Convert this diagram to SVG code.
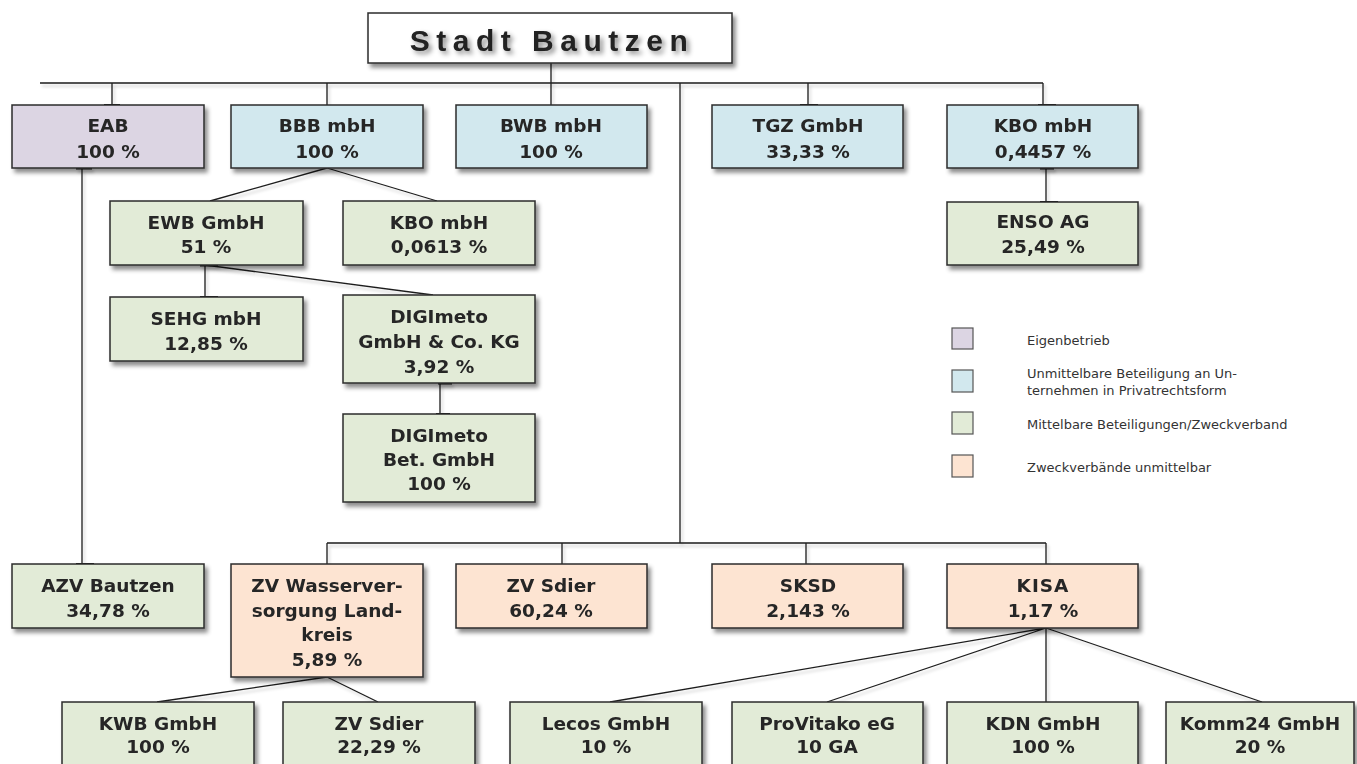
<svg xmlns="http://www.w3.org/2000/svg" width="1357" height="764" viewBox="0 0 1357 764">
<defs>
<filter id="sh" x="-10%" y="-10%" width="130%" height="140%">
<feDropShadow dx="3" dy="4" stdDeviation="2" flood-color="#000" flood-opacity="0.45"/>
</filter>
<filter id="tsh" x="-10%" y="-30%" width="130%" height="170%">
<feDropShadow dx="3" dy="3" stdDeviation="2.5" flood-color="#000" flood-opacity="0.45"/>
</filter>
<filter id="lsh" x="-5%" y="-5%" width="110%" height="110%">
<feDropShadow dx="2" dy="3" stdDeviation="1.5" flood-color="#000" flood-opacity="0.2"/>
</filter>
</defs>
<style>
.b{stroke:#2b2b2b;stroke-width:1.5}
.p{fill:#dcd5e3}
.u{fill:#d2e8ee}
.g{fill:#e2ebd7}
.o{fill:#fde4d2}
.w{fill:#ffffff}
.t{font-family:"DejaVu Sans",Verdana,sans-serif;font-weight:bold;font-size:18.5px;fill:#262626;text-anchor:middle}
.root{font-family:"Liberation Sans",Arial,sans-serif;font-weight:bold;font-size:30px;letter-spacing:6.5px;fill:#222;text-anchor:middle}
.c{stroke:#1e1e1e;stroke-width:1.3;fill:none}
.cap{fill:#111}
.lg{font-family:"DejaVu Sans",Verdana,sans-serif;font-size:13px;fill:#333}
.ls{stroke:#555;stroke-width:1.2}
</style>

<g id="connectors" filter="url(#lsh)">
<path class="c" d="M551 63V83M40 83H1043M112 83V105M327 83V105M551 83V105M808 83V105M1043 83V105M680 83V543"/>
<path class="c" d="M327 543H1046M327 543V564M562 543V564M806 543V564M1046 543V564"/>
<path class="c" d="M82 168V564"/>
<path class="c" d="M327 168L210 201M327 168L437 201"/>
<path class="c" d="M205 265V297M205 265L433 295"/>
<path class="c" d="M440 383V414"/>
<path class="c" d="M1046 168V202"/>
<path class="c" d="M327 677L157 702M327 677L378 702"/>
<path class="c" d="M1046 628L610 702M1046 628L827 702M1046 628V702M1046 628L1262 702"/>
<rect class="cap" x="104" y="104" width="16" height="2.5"/>
<rect class="cap" x="76" y="167" width="16" height="2.5"/>
<rect class="cap" x="800" y="104" width="18" height="2.5"/>
<rect class="cap" x="1038" y="104" width="18" height="2.5"/>
<rect class="cap" x="1040" y="167" width="14" height="2.5"/>
<rect class="cap" x="1040" y="201" width="18" height="2.5"/>
<rect class="cap" x="200" y="264" width="18" height="2.5"/>
<rect class="cap" x="200" y="296" width="18" height="2.5"/>
<rect class="cap" x="438" y="382" width="14" height="2.5"/>
<rect class="cap" x="436" y="413" width="14" height="2.5"/>
<rect class="cap" x="76" y="563" width="18" height="2.5"/>
</g>

<g id="stadt-bautzen">
<rect class="b w" x="368" y="13" width="364" height="50" filter="url(#sh)"/>
<text class="root" x="552" y="51" filter="url(#tsh)">Stadt Bautzen</text>
</g>

<g id="eab" filter="url(#sh)">
<rect class="b p" x="12" y="105" width="192" height="63"/>
<text class="t" x="108" y="132">EAB</text>
<text class="t" x="108" y="158">100 %</text>
</g>
<g id="bbb" filter="url(#sh)">
<rect class="b u" x="231" y="105" width="192" height="63"/>
<text class="t" x="327" y="132">BBB mbH</text>
<text class="t" x="327" y="158">100 %</text>
</g>
<g id="bwb" filter="url(#sh)">
<rect class="b u" x="456" y="105" width="191" height="63"/>
<text class="t" x="551" y="132">BWB mbH</text>
<text class="t" x="551" y="158">100 %</text>
</g>
<g id="tgz" filter="url(#sh)">
<rect class="b u" x="712" y="105" width="191" height="63"/>
<text class="t" x="808" y="132">TGZ GmbH</text>
<text class="t" x="808" y="158">33,33 %</text>
</g>
<g id="kbo1" filter="url(#sh)">
<rect class="b u" x="947" y="105" width="191" height="63"/>
<text class="t" x="1043" y="132">KBO mbH</text>
<text class="t" x="1043" y="158">0,4457 %</text>
</g>

<g id="ewb" filter="url(#sh)">
<rect class="b g" x="110" y="201" width="193" height="64"/>
<text class="t" x="206" y="229">EWB GmbH</text>
<text class="t" x="206" y="253">51 %</text>
</g>
<g id="kbo2" filter="url(#sh)">
<rect class="b g" x="343" y="201" width="192" height="64"/>
<text class="t" x="439" y="229">KBO mbH</text>
<text class="t" x="439" y="253">0,0613 %</text>
</g>
<g id="sehg" filter="url(#sh)">
<rect class="b g" x="110" y="297" width="193" height="64"/>
<text class="t" x="206" y="325">SEHG mbH</text>
<text class="t" x="206" y="350">12,85 %</text>
</g>
<g id="digimeto-kg" filter="url(#sh)">
<rect class="b g" x="343" y="295" width="192" height="88"/>
<text class="t" x="439" y="323">DIGImeto</text>
<text class="t" x="439" y="348">GmbH &amp; Co. KG</text>
<text class="t" x="439" y="373">3,92 %</text>
</g>
<g id="digimeto-bet" filter="url(#sh)">
<rect class="b g" x="343" y="414" width="192" height="88"/>
<text class="t" x="439" y="442">DIGImeto</text>
<text class="t" x="439" y="466">Bet. GmbH</text>
<text class="t" x="439" y="490">100 %</text>
</g>
<g id="enso" filter="url(#sh)">
<rect class="b g" x="947" y="202" width="191" height="63"/>
<text class="t" x="1043" y="228">ENSO AG</text>
<text class="t" x="1043" y="253">25,49 %</text>
</g>

<g id="azv" filter="url(#sh)">
<rect class="b g" x="12" y="564" width="192" height="64"/>
<text class="t" x="108" y="592">AZV Bautzen</text>
<text class="t" x="108" y="617">34,78 %</text>
</g>
<g id="zv-wasser" filter="url(#sh)">
<rect class="b o" x="231" y="564" width="192" height="113"/>
<text class="t" x="327" y="592">ZV Wasserver-</text>
<text class="t" x="327" y="617">sorgung Land-</text>
<text class="t" x="327" y="641">kreis</text>
<text class="t" x="327" y="666">5,89 %</text>
</g>
<g id="zv-sdier" filter="url(#sh)">
<rect class="b o" x="456" y="564" width="191" height="64"/>
<text class="t" x="551" y="592">ZV Sdier</text>
<text class="t" x="551" y="617">60,24 %</text>
</g>
<g id="sksd" filter="url(#sh)">
<rect class="b o" x="712" y="564" width="191" height="64"/>
<text class="t" x="808" y="592">SKSD</text>
<text class="t" x="808" y="617">2,143 %</text>
</g>
<g id="kisa" filter="url(#sh)">
<rect class="b o" x="947" y="564" width="191" height="64"/>
<text class="t" x="1043" y="592" letter-spacing="1">KISA</text>
<text class="t" x="1043" y="617">1,17 %</text>
</g>

<g id="kwb" filter="url(#sh)">
<rect class="b g" x="62" y="702" width="192" height="70"/>
<text class="t" x="158" y="730">KWB GmbH</text>
<text class="t" x="158" y="753">100 %</text>
</g>
<g id="zv-sdier2" filter="url(#sh)">
<rect class="b g" x="283" y="702" width="192" height="70"/>
<text class="t" x="379" y="730">ZV Sdier</text>
<text class="t" x="379" y="753">22,29 %</text>
</g>
<g id="lecos" filter="url(#sh)">
<rect class="b g" x="510" y="702" width="192" height="70"/>
<text class="t" x="606" y="730">Lecos GmbH</text>
<text class="t" x="606" y="753">10 %</text>
</g>
<g id="provitako" filter="url(#sh)">
<rect class="b g" x="732" y="702" width="191" height="70"/>
<text class="t" x="827" y="730">ProVitako eG</text>
<text class="t" x="827" y="753">10 GA</text>
</g>
<g id="kdn" filter="url(#sh)">
<rect class="b g" x="947" y="702" width="191" height="70"/>
<text class="t" x="1043" y="730">KDN GmbH</text>
<text class="t" x="1043" y="753">100 %</text>
</g>
<g id="komm24" filter="url(#sh)">
<rect class="b g" x="1166" y="702" width="188" height="70"/>
<text class="t" x="1260" y="730">Komm24 GmbH</text>
<text class="t" x="1260" y="753">20 %</text>
</g>

<g id="legend">
<rect class="ls p" x="952" y="328" width="21" height="21"/>
<text class="lg" x="1027" y="345">Eigenbetrieb</text>
<rect class="ls u" x="952" y="370" width="21" height="22"/>
<text class="lg" x="1027" y="378">Unmittelbare Beteiligung an Un-</text>
<text class="lg" x="1027" y="395">ternehmen in Privatrechtsform</text>
<rect class="ls g" x="952" y="412" width="21" height="22"/>
<text class="lg" x="1027" y="429">Mittelbare Beteiligungen/Zweckverband</text>
<rect class="ls o" x="952" y="455" width="21" height="22"/>
<text class="lg" x="1027" y="472">Zweckverbände unmittelbar</text>
</g>
</svg>
